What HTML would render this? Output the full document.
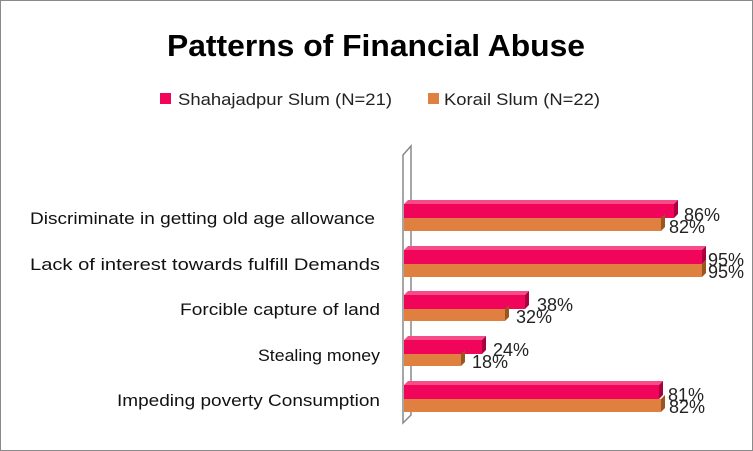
<!DOCTYPE html>
<html><head><style>
body{margin:0;background:#fff}
svg{display:block}
text{font-family:"Liberation Sans",sans-serif}
</style></head><body>
<svg width="753" height="451" xmlns="http://www.w3.org/2000/svg">
<rect x="0.5" y="0.5" width="752" height="450" fill="#fff" stroke="#8a8a8a"/>
<text x="376" y="56" text-anchor="middle" font-size="31" font-weight="bold" fill="#000" textLength="418" lengthAdjust="spacingAndGlyphs">Patterns of Financial Abuse</text>
<rect x="160" y="93" width="11" height="11" fill="#f0055a"/>
<text x="178" y="105" font-size="17" fill="#222" textLength="214" lengthAdjust="spacingAndGlyphs">Shahajadpur Slum (N=21)</text>
<rect x="428" y="93" width="11" height="11" fill="#e08040"/>
<text x="444" y="105" font-size="17" fill="#222" textLength="156" lengthAdjust="spacingAndGlyphs">Korail Slum (N=22)</text>
<polygon points="403,155 411,146 411,415 403,423" fill="#fff" stroke="#888" stroke-width="1.5"/>
<g font-size="17" fill="#111" lengthAdjust="spacingAndGlyphs">
<text x="30" y="224" textLength="345" lengthAdjust="spacingAndGlyphs">Discriminate in getting old age allowance</text>
<text x="30" y="270" textLength="350" lengthAdjust="spacingAndGlyphs">Lack of interest  towards fulfill Demands</text>
<text x="180" y="315" textLength="200" lengthAdjust="spacingAndGlyphs">Forcible capture of land</text>
<text x="258" y="361" textLength="122" lengthAdjust="spacingAndGlyphs">Stealing money</text>
<text x="117" y="406" textLength="263" lengthAdjust="spacingAndGlyphs">Impeding poverty Consumption</text>
</g>
<g font-size="18" fill="#222">
<text x="684" y="221">86%</text><text x="669" y="233">82%</text>
<text x="708" y="266">95%</text><text x="708" y="278">95%</text>
<text x="537" y="311">38%</text><text x="516" y="323">32%</text>
<text x="493" y="356">24%</text><text x="472" y="368">18%</text>
<text x="668" y="401">81%</text><text x="669" y="413">82%</text>
</g>
<g>
<polygon points="404,204 408,200 678,200 674,204" fill="#f64d88"/>
<rect x="404" y="204" width="270" height="14" fill="#f0055a"/>
<polygon points="674,204 678,200 678,214 674,218" fill="#a80040"/>
<rect x="404" y="218" width="257" height="13" fill="#e08040"/>
<polygon points="661,218 665,214 665,227 661,231" fill="#9a5520"/>

<polygon points="404,250 408,246 706,246 702,250" fill="#f64d88"/>
<rect x="404" y="250" width="298" height="14" fill="#f0055a"/>
<polygon points="702,250 706,246 706,260 702,264" fill="#a80040"/>
<rect x="404" y="264" width="298" height="13" fill="#e08040"/>
<polygon points="702,264 706,260 706,273 702,277" fill="#9a5520"/>

<polygon points="404,295 408,291 529,291 525,295" fill="#f64d88"/>
<rect x="404" y="295" width="121" height="14" fill="#f0055a"/>
<polygon points="525,295 529,291 529,305 525,309" fill="#a80040"/>
<rect x="404" y="309" width="101" height="12" fill="#e08040"/>
<polygon points="505,309 509,305 509,317 505,321" fill="#9a5520"/>

<polygon points="404,340 408,336 486,336 482,340" fill="#f64d88"/>
<rect x="404" y="340" width="78" height="14" fill="#f0055a"/>
<polygon points="482,340 486,336 486,350 482,354" fill="#a80040"/>
<rect x="404" y="354" width="57" height="12" fill="#e08040"/>
<polygon points="461,354 465,350 465,362 461,366" fill="#9a5520"/>

<polygon points="404,385 408,381 663,381 659,385" fill="#f64d88"/>
<rect x="404" y="385" width="255" height="14" fill="#f0055a"/>
<polygon points="659,385 663,381 663,395 659,399" fill="#a80040"/>
<rect x="404" y="399" width="257" height="13" fill="#e08040"/>
<polygon points="661,399 665,395 665,408 661,412" fill="#9a5520"/>
</g>
</svg>
</body></html>
